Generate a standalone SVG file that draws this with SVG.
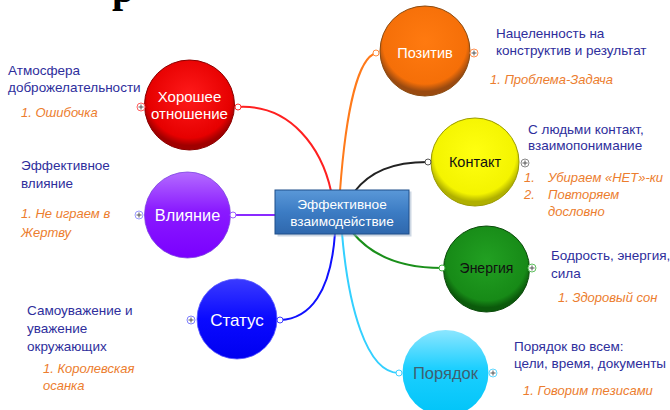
<svg xmlns="http://www.w3.org/2000/svg" width="670" height="410" viewBox="0 0 670 410">
  <defs>
    <radialGradient id="gRed" cx="50%" cy="40%" r="55%">
      <stop offset="0" stop-color="#ff1a1a"/>
      <stop offset="0.85" stop-color="#e60000"/>
      <stop offset="1" stop-color="#a00000"/>
    </radialGradient>
    <linearGradient id="gPurple" x1="0" y1="0" x2="0" y2="1">
      <stop offset="0" stop-color="#b46cff"/>
      <stop offset="0.45" stop-color="#8a1aff"/>
      <stop offset="1" stop-color="#7a00ff"/>
    </linearGradient>
    <linearGradient id="gBlue" x1="0" y1="0" x2="0" y2="1">
      <stop offset="0" stop-color="#3a3aff"/>
      <stop offset="0.5" stop-color="#0a0aff"/>
      <stop offset="1" stop-color="#0000f0"/>
    </linearGradient>
    <radialGradient id="gOrange" cx="50%" cy="40%" r="55%">
      <stop offset="0" stop-color="#ff7a10"/>
      <stop offset="0.85" stop-color="#f56f08"/>
      <stop offset="1" stop-color="#9a4a10"/>
    </radialGradient>
    <radialGradient id="gYellow" cx="50%" cy="40%" r="55%">
      <stop offset="0" stop-color="#ffff10"/>
      <stop offset="0.85" stop-color="#f4f400"/>
      <stop offset="1" stop-color="#b0b000"/>
    </radialGradient>
    <radialGradient id="gGreen" cx="50%" cy="40%" r="55%">
      <stop offset="0" stop-color="#22a022"/>
      <stop offset="0.85" stop-color="#178a17"/>
      <stop offset="1" stop-color="#0b5a0b"/>
    </radialGradient>
    <linearGradient id="gCyan" x1="0" y1="0" x2="0" y2="1">
      <stop offset="0" stop-color="#8ce6ff"/>
      <stop offset="0.45" stop-color="#1ccfff"/>
      <stop offset="1" stop-color="#00c4f8"/>
    </linearGradient>
    <linearGradient id="gCentral" x1="0" y1="0" x2="0" y2="1">
      <stop offset="0" stop-color="#5a98d8"/>
      <stop offset="0.5" stop-color="#3c7cc4"/>
      <stop offset="1" stop-color="#2f68ad"/>
    </linearGradient>
  </defs>
  <style>
    .lbl { font-family: "Liberation Sans", Arial, sans-serif; }
    .note { font-family: "Liberation Sans", Arial, sans-serif; font-size: 13.5px; fill: #2e2e9c; }
    .task { font-family: "Liberation Sans", Arial, sans-serif; font-size: 13px; font-style: italic; fill: #ec7d2e; }
    .conn { fill: none; stroke-width: 2; }
    .end { fill: #ffffff; stroke-width: 1; }
    .plus { fill: #ffffff; stroke-width: 1; }
    .plusmark { stroke: #555555; stroke-width: 1; }
  </style>

  <rect width="670" height="410" fill="#ffffff"/>

  <!-- title (top edge, running off the page) -->
  <text x="112" y="2" font-family="Liberation Serif, serif" font-weight="bold" font-size="40" fill="#000000">р</text>

  <!-- connectors -->
  <g id="connectors">
    <path class="conn" stroke="#ff2020" d="M238,107 C292,104 322,150 331,191"/>
    <path class="conn" stroke="#ff7a1a" d="M376,53 C358,58 346,110 340,191"/>
    <path class="conn" stroke="#222222" d="M355,191 C370,172 392,162 428,162"/>
    <path class="conn" stroke="#8a2aff" d="M233,215 L275,215"/>
    <path class="conn" stroke="#1010ff" d="M335,233 C331,292 310,319 280,320"/>
    <path class="conn" stroke="#33d0ff" d="M342,233 C348,305 366,373 399,373"/>
    <path class="conn" stroke="#1a8f1a" d="M353,233 C372,256 402,268 442,268"/>
  </g>

  <!-- central topic -->
  <g id="central">
    <rect x="276" y="190" width="134" height="45" fill="#9bb0c8" opacity="0.5" transform="translate(1.5,1.5)"/>
    <rect x="275" y="190" width="134" height="44" fill="url(#gCentral)" stroke="#1f4f8a" stroke-width="1"/>
    <text class="lbl" x="342" y="209" font-size="13.6" fill="#ffffff" text-anchor="middle">Эффективное</text>
    <text class="lbl" x="342" y="226" font-size="13.6" fill="#ffffff" text-anchor="middle">взаимодействие</text>
  </g>

  <!-- Хорошее отношение -->
  <g id="node-horoshee">
    <circle cx="189.5" cy="105" r="45" fill="url(#gRed)" stroke="#8a0000" stroke-width="1"/>
    <text class="lbl" x="189.5" y="102" font-size="15" fill="#ffffff" text-anchor="middle">Хорошее</text>
    <text class="lbl" x="189.5" y="119" font-size="15" fill="#ffffff" text-anchor="middle">отношение</text>
    <circle class="end" cx="238" cy="107" r="3" stroke="#ff3030"/>
    <circle class="plus" cx="141" cy="107" r="4" stroke="#ff6060"/>
    <path class="plusmark" d="M138.5,107 h5 M141,104.5 v5"/>
    <text class="note" x="8" y="75">Атмосфера</text>
    <text class="note" x="8" y="92">доброжелательности</text>
    <text class="task" x="21" y="117">1. Ошибочка</text>
  </g>

  <!-- Влияние -->
  <g id="node-vliyanie">
    <circle cx="187.5" cy="215" r="43" fill="url(#gPurple)" stroke="#7a40e0" stroke-width="0.8"/>
    <text class="lbl" x="187.5" y="221" font-size="16.3" fill="#ffffff" text-anchor="middle">Влияние</text>
    <circle class="end" cx="233" cy="215" r="3" stroke="#9a60ff"/>
    <circle class="plus" cx="139" cy="215" r="4" stroke="#9a9aff"/>
    <path class="plusmark" d="M136.5,215 h5 M139,212.5 v5"/>
    <text class="note" x="21" y="170">Эффективное</text>
    <text class="note" x="21" y="188">влияние</text>
    <text class="task" x="21" y="218">1. Не играем в</text>
    <text class="task" x="21" y="237">Жертву</text>
  </g>

  <!-- Статус -->
  <g id="node-status">
    <circle cx="237" cy="319" r="40" fill="url(#gBlue)" stroke="#5050ff" stroke-width="0.8"/>
    <text class="lbl" x="237" y="326" font-size="17" fill="#ffffff" text-anchor="middle">Статус</text>
    <circle class="end" cx="280" cy="320" r="3" stroke="#4040ff"/>
    <circle class="plus" cx="191" cy="320" r="4" stroke="#8080ff"/>
    <path class="plusmark" d="M188.5,320 h5 M191,317.5 v5"/>
    <text class="note" x="27" y="315">Самоуважение и</text>
    <text class="note" x="27" y="333">уважение</text>
    <text class="note" x="27" y="351">окружающих</text>
    <text class="task" x="43" y="373">1. Королевская</text>
    <text class="task" x="43" y="390">осанка</text>
  </g>

  <!-- Позитив -->
  <g id="node-pozitiv">
    <circle cx="425" cy="51" r="45" fill="url(#gOrange)" stroke="#8a4a10" stroke-width="1"/>
    <text class="lbl" x="425" y="58" font-size="14.5" fill="#ffffff" text-anchor="middle">Позитив</text>
    <circle class="end" cx="376" cy="53" r="3" stroke="#ff8a3a"/>
    <circle class="plus" cx="474" cy="53" r="4" stroke="#ff9050"/>
    <path class="plusmark" d="M471.5,53 h5 M474,50.5 v5"/>
    <text class="note" x="496" y="38">Нацеленность на</text>
    <text class="note" x="496" y="55">конструктив и результат</text>
    <text class="task" x="490" y="84">1. Проблема-Задача</text>
  </g>

  <!-- Контакт -->
  <g id="node-kontakt">
    <circle cx="475" cy="162" r="44" fill="url(#gYellow)" stroke="#9a9a00" stroke-width="1"/>
    <text class="lbl" x="475" y="167" font-size="14.5" fill="#111111" text-anchor="middle">Контакт</text>
    <circle class="end" cx="428" cy="162" r="3" stroke="#555555"/>
    <circle class="plus" cx="525" cy="163" r="4" stroke="#888888"/>
    <path class="plusmark" d="M522.5,163 h5 M525,160.5 v5"/>
    <text class="note" x="528" y="134">С людьми контакт,</text>
    <text class="note" x="528" y="150">взаимопонимание</text>
    <text class="task" x="524" y="182">1.</text>
    <text class="task" x="548" y="182">Убираем «НЕТ»-ки</text>
    <text class="task" x="524" y="199">2.</text>
    <text class="task" x="548" y="199">Повторяем</text>
    <text class="task" x="548" y="216">дословно</text>
  </g>

  <!-- Энергия -->
  <g id="node-energiya">
    <circle cx="486.5" cy="269" r="43" fill="url(#gGreen)" stroke="#0a4a0a" stroke-width="1"/>
    <text class="lbl" x="486.5" y="273" font-size="14" fill="#111111" text-anchor="middle">Энергия</text>
    <circle class="end" cx="442" cy="268" r="3" stroke="#40b040"/>
    <circle class="plus" cx="532" cy="268" r="4" stroke="#60c060"/>
    <path class="plusmark" d="M529.5,268 h5 M532,265.5 v5"/>
    <text class="note" x="551" y="260">Бодрость, энергия,</text>
    <text class="note" x="551" y="278">сила</text>
    <text class="task" x="558" y="302">1. Здоровый сон</text>
  </g>

  <!-- Порядок -->
  <g id="node-poryadok">
    <circle cx="445.5" cy="373" r="43" fill="url(#gCyan)"/>
    <text class="lbl" x="445.5" y="379" font-size="16.5" fill="#3e6070" text-anchor="middle">Порядок</text>
    <circle class="end" cx="399" cy="373" r="3" stroke="#40d0ff"/>
    <circle class="plus" cx="493" cy="373" r="4" stroke="#60d8ff"/>
    <path class="plusmark" d="M490.5,373 h5 M493,370.5 v5"/>
    <text class="note" x="514" y="351">Порядок во всем:</text>
    <text class="note" x="514" y="368">цели, время, документы</text>
    <text class="task" x="523" y="395">1. Говорим тезисами</text>
  </g>
</svg>
